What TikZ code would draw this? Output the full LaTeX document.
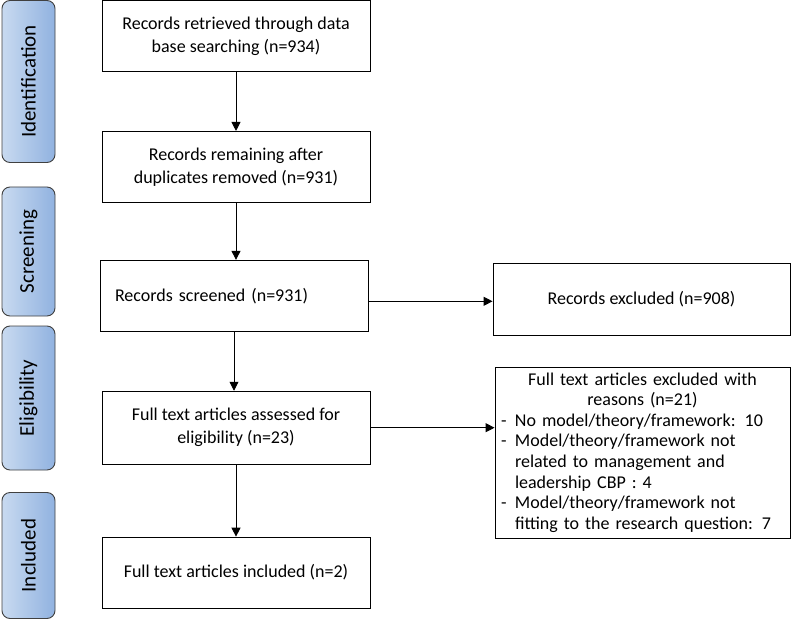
\documentclass[tikz,border=0pt]{standalone}
\usepackage{fontspec}
\setmainfont{Carlito}
\usetikzlibrary{positioning}
\usetikzlibrary{arrows.meta}
\usetikzlibrary{calc}

\definecolor{tableft}{RGB}{200,218,240}
\definecolor{tabright}{RGB}{145,178,224}

\newcommand{\dash}{\makebox[14pt][l]{-}}
\newcommand{\hang}{\hspace*{14pt}}

\begin{document}
\begin{tikzpicture}[->, >={Triangle[length=9pt,width=9pt]}, x=1pt, y=-1pt, line width=0.9pt, font=\fontsize{18}{23}\selectfont]
    \tikzstyle{block}=[draw=black,rectangle,fill=white,minimum width=268pt,minimum height=71pt,align=center,inner sep=0pt]
    \tikzstyle{phase}=[draw=black!75,rectangle,rounded corners=8pt,left color=tableft,right color=tabright,minimum width=53pt,inner sep=0pt,font=\fontsize{21}{24}\selectfont]
    \tikzstyle{reasons}=[draw=black,rectangle,fill=white,text width=283pt,inner xsep=6pt,inner ysep=0pt,minimum height=171pt,align=left,font=\fontsize{18}{20.6}\selectfont]

    \useasboundingbox (0,0) rectangle (791,620);

    % phase tabs on the left
    \node[phase, minimum height=162pt] (ident) at (28.5,81.5) {\rotatebox{90}{Identification}};
    \node[phase, minimum height=129pt] (screen) at (28.5,251.5) {\rotatebox{90}{Screening}};
    \node[phase, minimum height=144pt] (elig) at (28.5,398) {\rotatebox{90}{Eligibility}};
    \node[phase, minimum height=126pt] (incl) at (28.5,555.5) {\rotatebox{90}{Included}};

    % main flow
    \node[block] (retr) at (236,36) {Records retrieved through data\\base searching (n=934)};
    \node[block, below=59pt of retr] (dupl) {Records remaining after\\duplicates removed (n=931)};
    \node[block, below=57pt of dupl, xshift=-2pt, text width=238pt, align=left] (scrn) {Records screened (n=931)};
    \node[block, below=59pt of scrn, xshift=2pt, minimum height=73pt] (full) {Full text articles assessed for\\eligibility (n=23)};
    \node[block, below=72pt of full] (inclu) {Full text articles included (n=2)};

    % exclusions on the right
    \node[block, minimum width=297pt, minimum height=72pt] (excl) at (641.5,299) {Records excluded (n=908)};
    \node[reasons] (rsn) at (642.5,452.5) {%
        \makebox[283pt][c]{Full text articles excluded with}\\
        \makebox[283pt][c]{reasons (n=21)}\\
        \dash No model/theory/framework: 10\\
        \dash Model/theory/framework not\\
        \hang related to management and\\
        \hang leadership CBP : 4\\
        \dash Model/theory/framework not\\
        \hang fitting to the research question: 7};

    \draw (retr) -- (dupl);
    \draw (dupl) -- (dupl |- scrn.north);
    \draw (scrn) -- (scrn |- full.north);
    \draw (full) -- (full |- inclu.north);
    \draw ($(scrn.east)+(0,5.5)$) -- ($(excl.west |- scrn.east)+(0,5.5)$);
    \draw (full.east) -- (full.east -| rsn.west);

\end{tikzpicture}
\end{document}
